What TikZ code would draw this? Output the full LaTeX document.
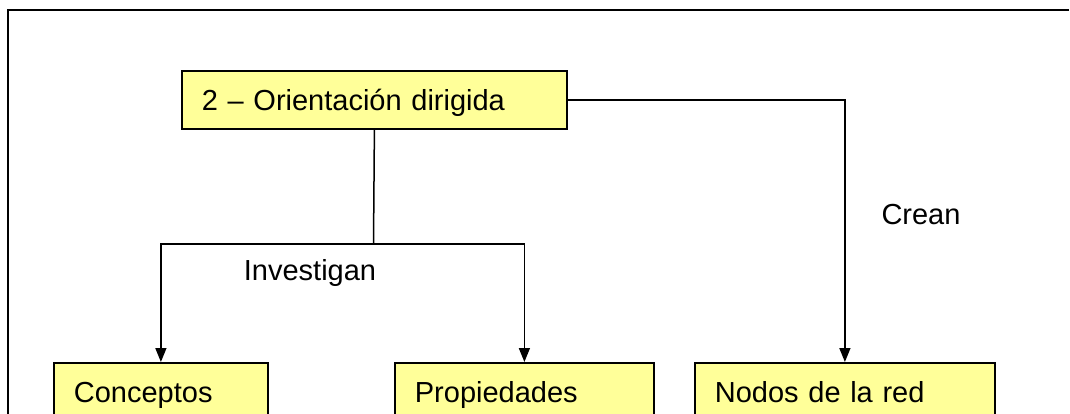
\documentclass[tikz,border=0pt]{standalone}
\usepackage{fontspec}
\setmainfont{Liberation Sans}
\usetikzlibrary{arrows.meta}

\definecolor{boxyellow}{RGB}{255,255,153}

\tikzset{
  yellowbox/.style={draw=black, line width=1.8pt, fill=boxyellow, anchor=north west,
    minimum height=58pt, inner xsep=20pt, inner ysep=0pt, align=left,
    text height=26pt, text depth=4pt,
    font=\fontsize{29}{34}\selectfont},
  lbl/.style={inner sep=0pt, font=\fontsize{29}{34}\selectfont},
  conn/.style={line width=1.5pt},
  arr/.style={conn, -{Triangle[length=14pt,width=11pt]}},
}

\begin{document}
\begin{tikzpicture}[x=1pt,y=1pt,yscale=-1]
\fill [white] (0,0) rectangle (1070,414);
\useasboundingbox (0,0) rectangle (1070,414);

% outer frame (runs off the right and bottom)
\draw [line width=2pt] (1069,10) -- (8,10) -- (8,414);

% boxes
\node [yellowbox, text width=345pt] (orient) at (181,70) {2 – Orientación dirigida};
\node [yellowbox, text width=174pt] (conc) at (53,362) {Conceptos};
\node [yellowbox, text width=219pt] (prop) at (394,362) {Propiedades};
\node [yellowbox, text width=260pt] (nodos) at (694,362) {Nodos de la red};

% connectors
\coordinate (split) at (373.5,244);
\draw [conn] (orient.south) -- (split);
\draw [arr] (split) -| (conc.north);
\draw [arr] (split) -| (prop.north);
\draw [arr] (orient.east) -| (nodos.north);

% labels
\node [lbl] (inv) at (310,273) {Investigan};
\node [lbl] (crean) at (921,215) {Crean};
\end{tikzpicture}
\end{document}
